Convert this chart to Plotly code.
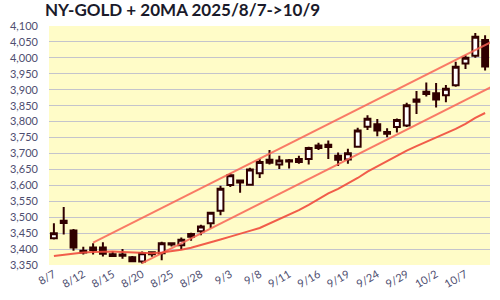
import plotly.graph_objects as go

dates = ["8/7", "8/8", "8/11", "8/12", "8/13", "8/14", "8/15", "8/18", "8/19", "8/20",
         "8/21", "8/22", "8/25", "8/26", "8/27", "8/28", "8/29", "9/2", "9/3", "9/4",
         "9/5", "9/8", "9/9", "9/10", "9/11", "9/12", "9/15", "9/16", "9/17", "9/18",
         "9/19", "9/22", "9/23", "9/24", "9/25", "9/26", "9/29", "9/30", "10/1", "10/2",
         "10/3", "10/6", "10/7", "10/8", "10/9"]

opens = [3434, 3482, 3458, 3389, 3397, 3405, 3384, 3383, 3374, 3361,
         3390, 3387, 3418, 3412, 3439, 3456, 3481, 3520, 3601, 3615,
         3602, 3638, 3671, 3665, 3679, 3673, 3683, 3717, 3727, 3693,
         3681, 3721, 3784, 3792, 3767, 3783, 3788, 3862, 3887, 3889,
         3883, 3914, 3982, 4007, 4056]
highs = [3481, 3532, 3463, 3407, 3418, 3421, 3393, 3400, 3378, 3392,
         3392, 3423, 3420, 3436, 3451, 3476, 3517, 3599, 3638, 3615,
         3655, 3683, 3711, 3693, 3683, 3693, 3721, 3734, 3741, 3703,
         3715, 3781, 3820, 3808, 3779, 3810, 3859, 3896, 3923, 3921,
         3915, 3988, 4008, 4078, 4071]
lows = [3430, 3446, 3395, 3383, 3383, 3377, 3378, 3370, 3362, 3355,
        3376, 3365, 3408, 3398, 3426, 3443, 3466, 3506, 3595, 3577,
        3599, 3623, 3665, 3651, 3653, 3668, 3665, 3711, 3683, 3661,
        3668, 3718, 3774, 3754, 3751, 3766, 3783, 3824, 3879, 3844,
        3861, 3909, 3965, 4000, 3960]
closes = [3450, 3489, 3405, 3395, 3405, 3385, 3378, 3379, 3362, 3387,
          3384, 3418, 3414, 3429, 3447, 3471, 3514, 3589, 3632, 3609,
          3650, 3673, 3680, 3678, 3675, 3683, 3717, 3725, 3720, 3680,
          3701, 3772, 3809, 3772, 3762, 3805, 3851, 3869, 3894, 3869,
          3903, 3972, 4000, 4066, 3973]

ma20 = [3378, 3382, 3386, 3389, 3391, 3392, 3392, 3391, 3389, 3387,
        3387, 3389, 3393, 3398, 3404, 3412, 3420, 3430, 3439, 3447,
        3457, 3466, 3480, 3494, 3508, 3522, 3539, 3557, 3575, 3589,
        3605, 3623, 3643, 3660, 3676, 3692, 3709, 3723, 3736, 3749,
        3762, 3777, 3793, 3812, 3827]

# trend channel (index, price) anchor points
upper_x = [4, 45.5]
upper_y = [3420, 4063]
lower_x = [9, 45.5]
lower_y = [3356, 3922]

tick_labels = ["8/7", "8/12", "8/15", "8/20", "8/25", "8/28", "9/3", "9/8",
               "9/11", "9/16", "9/19", "9/24", "9/29", "10/2", "10/7"]

idx = list(range(len(dates)))
tick_idx = [dates.index(t) for t in tick_labels]

dark = "#300000"
fig = go.Figure()
fig.add_trace(go.Scatter(x=upper_x, y=upper_y, mode="lines",
                         line=dict(color="rgba(248,100,85,0.85)", width=2), hoverinfo="skip"))
fig.add_trace(go.Scatter(x=lower_x, y=lower_y, mode="lines",
                         line=dict(color="rgba(248,100,85,0.85)", width=2), hoverinfo="skip"))
fig.add_trace(go.Scatter(x=idx, y=ma20, mode="lines",
                         line=dict(color="rgba(240,75,60,0.9)", width=2), hoverinfo="skip"))
fig.add_trace(go.Candlestick(
    x=idx, open=opens, high=highs, low=lows, close=closes,
    increasing=dict(fillcolor="white", line=dict(color=dark, width=2)),
    decreasing=dict(fillcolor=dark, line=dict(color=dark, width=2)),
    whiskerwidth=0,
))

fig.update_layout(
    width=500, height=300,
    margin=dict(l=45, r=10, t=26, b=27),
    paper_bgcolor="white",
    plot_bgcolor="#fffcc8",
    showlegend=False,
    boxgap=0.15,
    font=dict(family="Lato, Open Sans, sans-serif", size=11, color="#4e4e70"),
    title=dict(text="<b>NY-GOLD + 20MA 2025/8/7->10/9</b>",
               x=45/500, xanchor="left", xref="container", y=0.985, yanchor="top",
               font=dict(family="Lato, Open Sans, sans-serif", size=17, color="#1a1a2a")),
    xaxis=dict(range=[-0.5, 44.5], tickmode="array", tickvals=tick_idx, ticktext=tick_labels,
               tickangle=-30, showgrid=False, zeroline=False, showline=False,
               rangeslider=dict(visible=False), fixedrange=True),
    yaxis=dict(range=[3350, 4100], dtick=50, tickformat=",", showgrid=True,
               gridcolor="#c4c4cc", gridwidth=1, zeroline=False, showline=False,
               ticklabelstandoff=10, fixedrange=True),
)

fig.write_html("out.html")
